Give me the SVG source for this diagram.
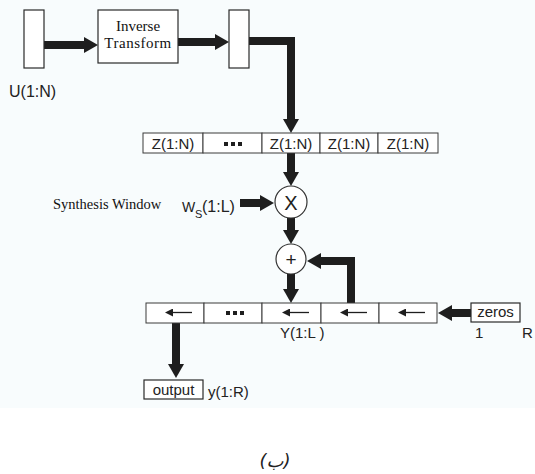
<svg xmlns="http://www.w3.org/2000/svg" width="535" height="474" viewBox="0 0 535 474">
<defs>
<style>
.box{fill:#fff;stroke:#2a2a2a;stroke-width:1.2}
.cell{fill:#fff;stroke:#3a3a3a;stroke-width:1}
.thick{fill:none;stroke:#1e1e1e;stroke-width:8;marker-end:url(#head)}
.thin{fill:none;stroke:#1e1e1e;stroke-width:1.3;marker-end:url(#small)}
.sans{font-family:"Liberation Sans",Arial,sans-serif;fill:#222}
.serif{font-family:"Liberation Serif","Times New Roman",serif;fill:#111}
.dots{fill:#1e1e1e}
</style>
<marker id="head" viewBox="0 0 14 16" refX="2" refY="8" markerWidth="14" markerHeight="16" markerUnits="userSpaceOnUse" orient="auto">
<path d="M0,0 L14,8 L0,16 Z" fill="#1e1e1e"/>
</marker>
<marker id="small" viewBox="0 0 8 8" refX="1" refY="4" markerWidth="8" markerHeight="8" markerUnits="userSpaceOnUse" orient="auto">
<path d="M0,0 L8,4 L0,8 Z" fill="#1e1e1e"/>
</marker>
</defs>
<rect x="0" y="0" width="535" height="408" fill="#f8fcfd"/>
<rect x="0" y="408" width="535" height="66" fill="#fff"/>

<g id="connectors">
<path class="thick" d="M44,45 H86"/>
<path class="thick" d="M178,42 H217"/>
<path class="thick" d="M249,41 H291 V121"/>
<path class="thick" d="M291,153 V174"/>
<path class="thick" d="M240,203 H262"/>
<path class="thick" d="M291,218 V232"/>
<path class="thick" d="M351,303 V261 H319"/>
<path class="thick" d="M291,274 V291"/>
<path class="thick" d="M471,313 H450"/>
<path class="thick" d="M176,323 V366"/>
</g>

<g id="u-buffer">
<rect class="box" x="24" y="10" width="20" height="58"/>
<text class="sans" x="9" y="97" font-size="16">U(1:N)</text>
</g>

<g id="inverse-transform">
<rect class="box" x="98" y="10" width="80" height="53"/>
<text class="serif" x="138" y="31" font-size="15" text-anchor="middle">Inverse</text>
<text class="serif" x="138" y="48" font-size="15" text-anchor="middle" letter-spacing="0.5">Transform</text>
</g>

<g id="z-buffer-out">
<rect class="box" x="229" y="10" width="20" height="58"/>
</g>

<g id="z-row">
<rect class="cell" x="143" y="133" width="60" height="20" stroke="#777"/>
<rect class="cell" x="203" y="133" width="59" height="20"/>
<rect class="cell" x="262" y="133" width="58" height="20"/>
<rect class="cell" x="320" y="133" width="58" height="20"/>
<rect class="cell" x="378" y="133" width="60" height="20"/>
<g class="sans" font-size="15" text-anchor="middle">
<text x="173" y="149">Z(1:N)</text>
<text x="291" y="149">Z(1:N)</text>
<text x="349" y="149">Z(1:N)</text>
<text x="408" y="149">Z(1:N)</text>
</g>
<g class="dots">
<rect x="224" y="142" width="4" height="4"/>
<rect x="231" y="142" width="4" height="4"/>
<rect x="238" y="142" width="4" height="4"/>
</g>
</g>

<g id="multiply">
<circle cx="291" cy="202" r="16" fill="#fff" stroke="#333" stroke-width="1.2"/>
<text class="sans" x="291" y="209.5" font-size="20" text-anchor="middle">X</text>
</g>

<g id="synthesis-window">
<text class="serif" x="53" y="209" font-size="14.5">Synthesis Window</text>
<text class="sans" x="182" y="212" font-size="14">W</text>
<text class="sans" x="195" y="218" font-size="11">S</text>
<text class="sans" x="202" y="212" font-size="16">(1:L)</text>
</g>

<g id="add">
<circle cx="291" cy="259" r="15" fill="#fff" stroke="#333" stroke-width="1.2"/>
<text class="sans" x="291" y="266" font-size="19" text-anchor="middle">+</text>
</g>

<g id="y-row">
<rect class="cell" x="146" y="303" width="58" height="20"/>
<rect class="cell" x="204" y="303" width="58" height="20"/>
<rect class="cell" x="262" y="303" width="59" height="20"/>
<rect class="cell" x="321" y="303" width="58" height="20"/>
<rect class="cell" x="379" y="303" width="58" height="20"/>
<g class="dots">
<rect x="226" y="311" width="4" height="4"/>
<rect x="233" y="311" width="4" height="4"/>
<rect x="240" y="311" width="4" height="4"/>
</g>
<path class="thin" d="M192,312.5 H172"/>
<path class="thin" d="M309,312.5 H289"/>
<path class="thin" d="M367,312.5 H347"/>
<path class="thin" d="M425,312.5 H405"/>
<text class="sans" x="280" y="338" font-size="15">Y(1:L )</text>
</g>

<g id="zeros">
<rect class="box" x="471" y="303" width="49" height="19"/>
<text class="sans" x="495.5" y="317" font-size="15" text-anchor="middle">zeros</text>
<text class="sans" x="475" y="338" font-size="15">1</text>
<text class="sans" x="522" y="338" font-size="15">R</text>
</g>

<g id="output">
<rect class="box" x="144" y="380" width="59" height="19"/>
<text class="sans" x="173.5" y="395" font-size="15" text-anchor="middle">output</text>
<text class="sans" x="208" y="397" font-size="15">y(1:R)</text>
</g>

<g id="caption">
<text x="275" y="467" font-family="'DejaVu Sans',sans-serif" font-size="18" font-style="italic" text-anchor="middle" fill="#222">(ب)</text>
</g>
</svg>
